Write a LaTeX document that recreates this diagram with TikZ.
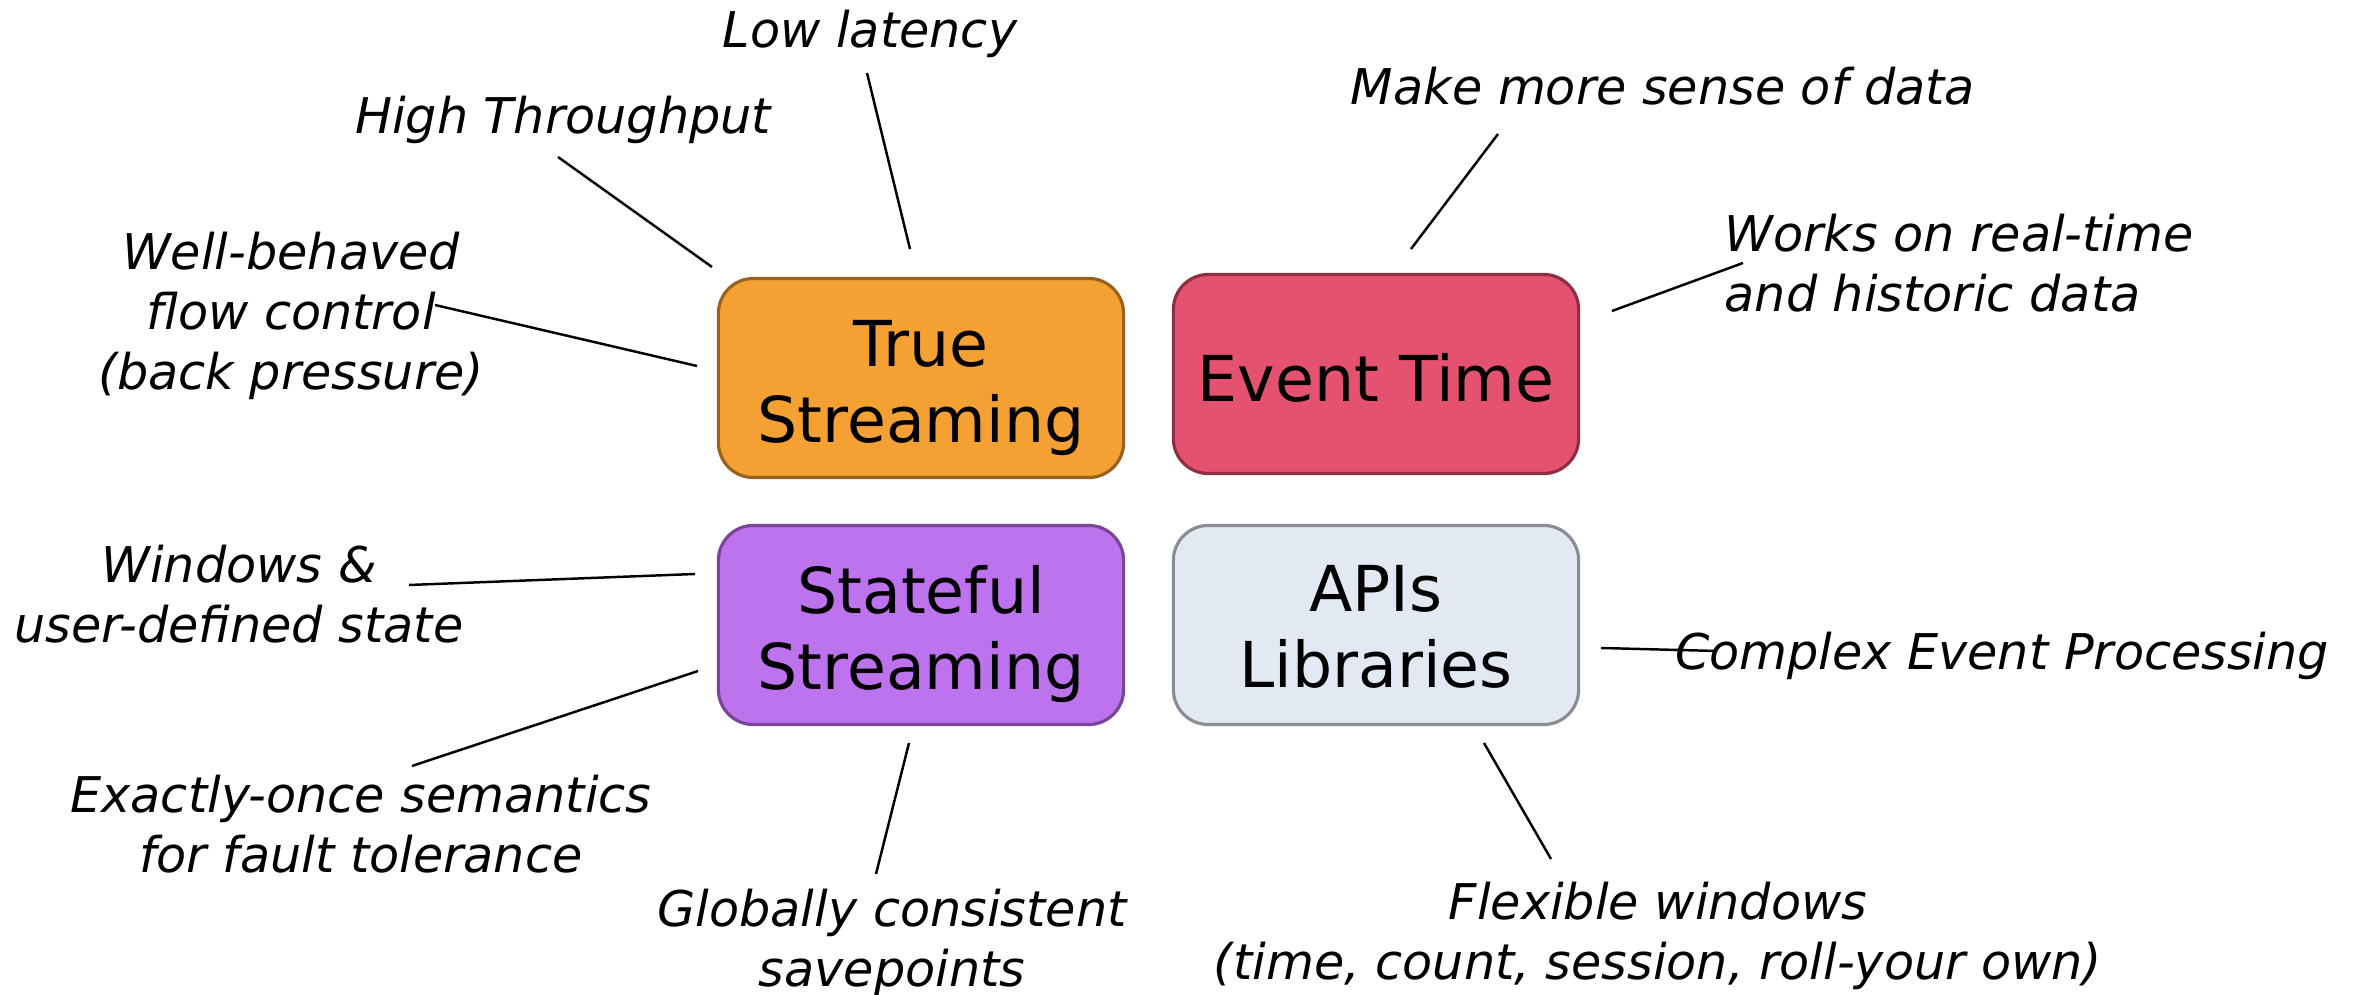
\documentclass[tikz,border=0pt]{standalone}
\usepackage{fontspec}
\setmainfont{DejaVu Sans}
\definecolor{truefill}{HTML}{F5A032}
\definecolor{trueline}{HTML}{98621E}
\definecolor{eventfill}{HTML}{E5526F}
\definecolor{eventline}{HTML}{8E2E42}
\definecolor{statefill}{HTML}{BD73EE}
\definecolor{stateline}{HTML}{7A4597}
\definecolor{apifill}{HTML}{E3E9F3}
\definecolor{apiline}{HTML}{8A8D93}

\begin{document}
\begin{tikzpicture}[
	x=0.01cm, y=-0.01cm,
	feature/.style={rounded corners=0.35cm, minimum width=4.05cm, minimum height=1.99cm,
		line width=0.9pt, inner sep=0pt},
	boxtext/.style={align=center, inner sep=0pt, font=\fontsize{18}{21.8}\selectfont},
	note/.style={align=center, inner sep=0pt, font=\itshape\fontsize{14}{17}\selectfont},
	leader/.style={line width=0.7pt},
]
	\useasboundingbox (0,0) rectangle (2359,995);

	% The four feature boxes, their titles set a little low
	\node[feature, draw=trueline, fill=truefill] (true) at (921,378) {};
	\node[feature, draw=eventline, fill=eventfill] (event) at (1376,374) {};
	\node[feature, draw=stateline, fill=statefill] (state) at (921,625) {};
	\node[feature, draw=apiline, fill=apifill] (api) at (1376,625) {};
	\node[boxtext] (true-text) at (921,388) {True\\Streaming};
	\node[boxtext] (event-text) at (1376,378) {Event Time};
	\node[boxtext] (state-text) at (921,634) {Stateful\\Streaming};
	\node[boxtext] (api-text) at (1376,627) {APIs\\Libraries};

	% Notes around the boxes
	\node[note] (latency) at (870,34) {Low latency};
	\node[note] (throughput) at (563,120) {High Throughput};
	\node[note] (flow) at (291,316) {Well-behaved\\flow control\\(back pressure)};
	\node[note] (sense) at (1663,86) {Make more sense of data};
	\node[note, align=left, anchor=west] (historic) at (1724,263) {Works on real-time\\and historic data};
	\node[note] (windows) at (239,594) {Windows \&\\user-defined state};
	\node[note] (exactly) at (361,824) {Exactly-once semantics\\for fault tolerance};
	\node[note] (savepoints) at (892,943) {Globally consistent\\savepoints};
	\node[note] (cep) at (2002,656) {Complex Event Processing};
	\node[note] (flexible) at (1658,936) {Flexible windows\\(time, count, session, roll-your own)};

	% Leader lines: outer end by the note, inner end by the box
	\foreach \n/\ax/\ay/\bx/\by in {latency/867/73/910/249, throughput/558/157/712/267,
		flow/435/305/697/366, sense/1498/134/1411/249, historic/1743/263/1612/311,
		windows/409/585/695/574, exactly/412/766/698/671, savepoints/876/874/909/743,
		cep/1717/651/1601/648, flexible/1551/859/1484/743} {
		\coordinate (\n-out) at (\ax,\ay);
		\coordinate (\n-in) at (\bx,\by);
		\draw[leader] (\n-out) -- (\n-in);
	}
\end{tikzpicture}
\end{document}
